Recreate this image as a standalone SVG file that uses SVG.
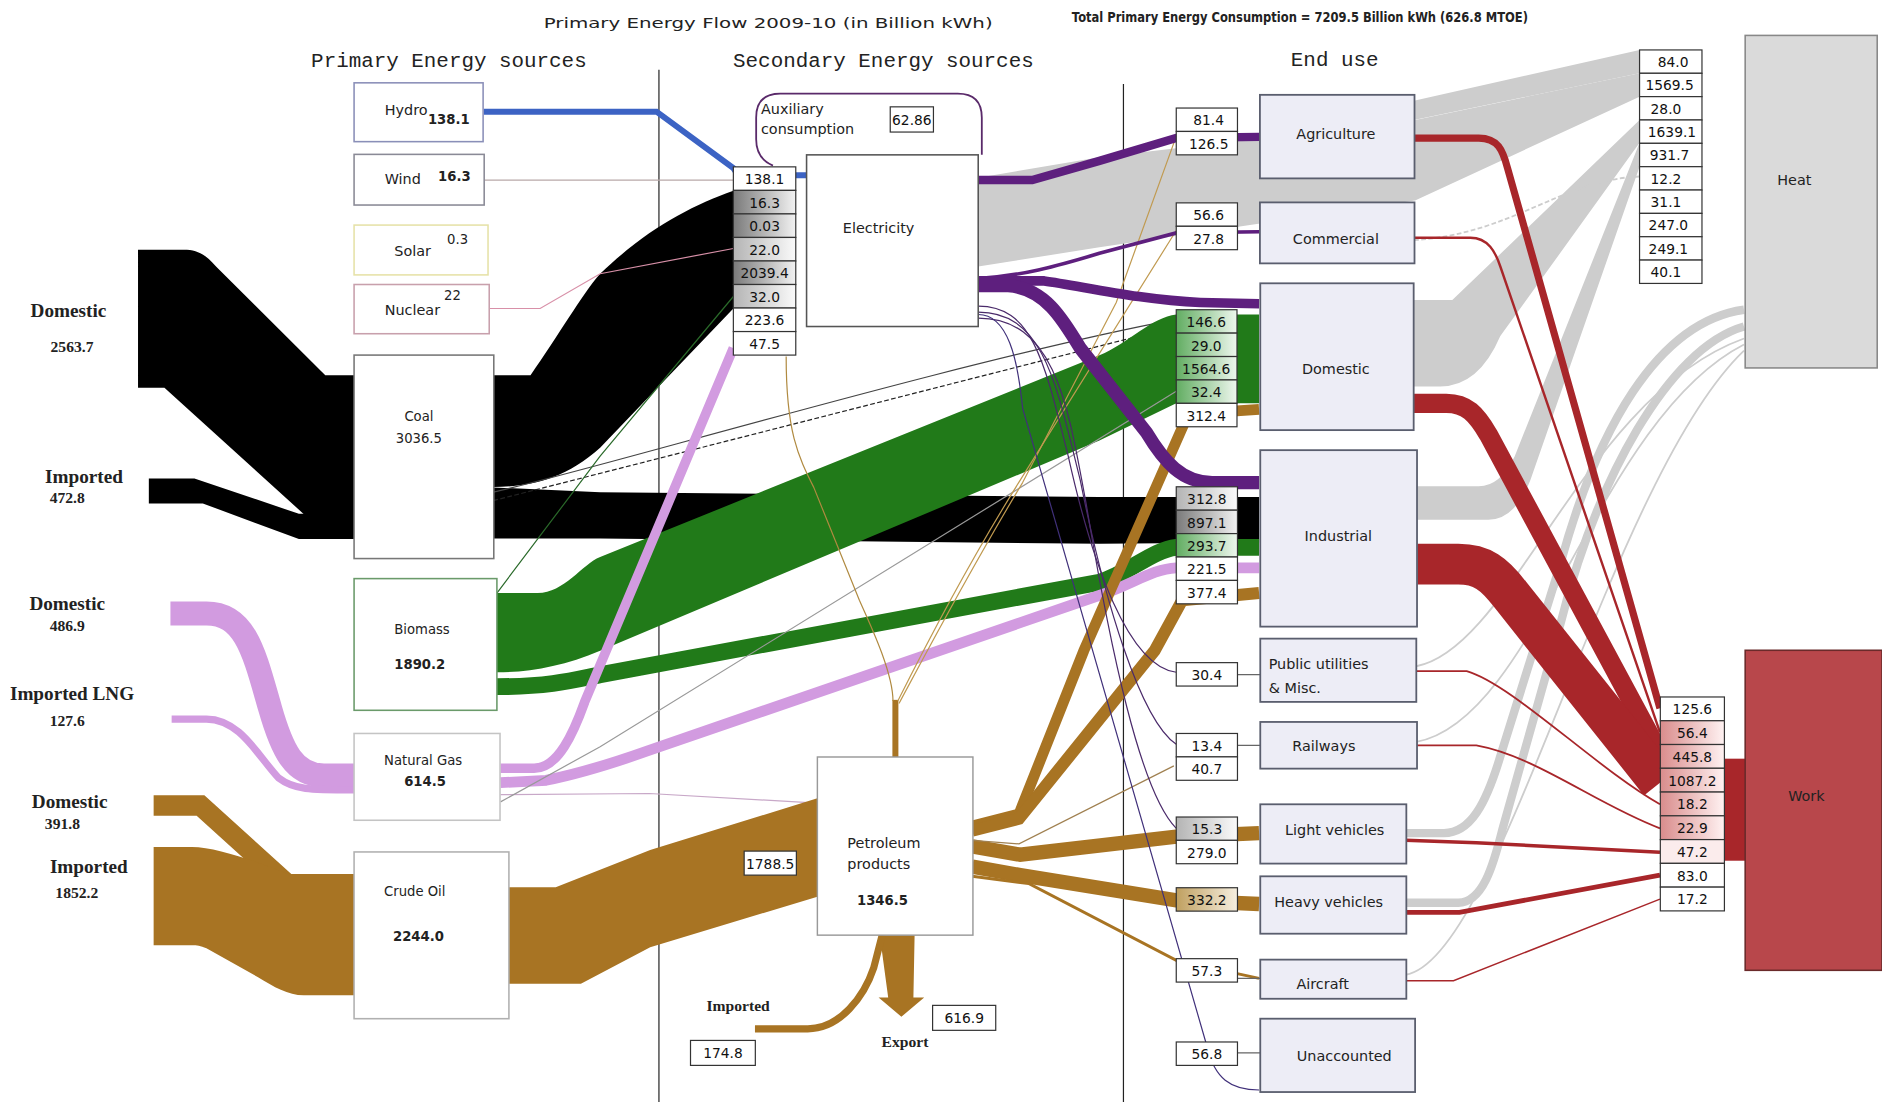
<svg xmlns="http://www.w3.org/2000/svg" width="1882" height="1102" viewBox="0 0 1882 1102">
<defs>
<style>
.hdr{font-family:"Liberation Mono",monospace;font-size:17.4px;fill:#222}
.lbl{font-family:"Liberation Serif",serif;font-weight:bold;font-size:16px;fill:#222}
.lnum{font-family:"Liberation Serif",serif;font-weight:bold;font-size:13px;fill:#222}
.bt{font-family:"DejaVu Sans",sans-serif;font-size:12px;fill:#222}
.bs{font-family:"DejaVu Sans",sans-serif;font-size:11px;fill:#222}
.bb{font-family:"DejaVu Sans",sans-serif;font-size:11px;font-weight:bold;fill:#222}
.cell{stroke:#333;stroke-width:1}
.ct{font-family:"DejaVu Sans",sans-serif;font-size:11.5px;fill:#111;text-anchor:middle}
.eu{fill:#ededf6;stroke:#5a5e6e;stroke-width:1.5}
.mid{text-anchor:middle}
.pb{fill:#fff;stroke-width:1.3}
.heat{fill:#cdcdcd}
.hl{fill:none;stroke:#cdcdcd;stroke-linecap:butt}
.red{fill:none;stroke:#a8262a}
.pur{fill:none;stroke:#5e1f7e}
.grn{fill:#217a19}
.lil{fill:none;stroke:#d29be0}
.oil{fill:#a87423}
.oils{fill:none;stroke:#a87423}
.thin{fill:none;stroke-width:1}
</style>
<linearGradient id="gg" x1="0" x2="1"><stop offset="0" stop-color="#7a7a7a"/><stop offset="1" stop-color="#f2f2f2"/></linearGradient>
<linearGradient id="gg2" x1="0" x2="1"><stop offset="0" stop-color="#b4b4b4"/><stop offset="1" stop-color="#fafafa"/></linearGradient>
<linearGradient id="gn" x1="0" x2="1"><stop offset="0" stop-color="#62ad62"/><stop offset="1" stop-color="#eef7ee"/></linearGradient>
<linearGradient id="gp" x1="0" x2="1"><stop offset="0" stop-color="#d98c8c"/><stop offset="1" stop-color="#fff2f2"/></linearGradient>
<linearGradient id="gt" x1="0" x2="1"><stop offset="0" stop-color="#c0a060"/><stop offset="1" stop-color="#f6efe0"/></linearGradient>
</defs>
<rect width="1882" height="1102" fill="#fff"/>
<g transform="scale(1.20026,1.20044)">

<g id="titles">
<text x="640" y="23" class="bt mid" font-size="17" textLength="374" lengthAdjust="spacingAndGlyphs">Primary Energy Flow 2009-10 (in Billion kWh)</text>
<text x="1083" y="18" class="bt mid" font-size="10.5" font-weight="bold" textLength="380" lengthAdjust="spacingAndGlyphs">Total Primary Energy Consumption = 7209.5 Billion kWh (626.8 MTOE)</text>
<text x="374" y="56" class="hdr mid">Primary Energy sources</text>
<text x="736" y="56" class="hdr mid">Secondary Energy sources</text>
<text x="1112" y="55" class="hdr mid">End use</text>
<line x1="549" y1="58" x2="549" y2="918" stroke="#222" stroke-width="1"/>
<line x1="936" y1="70" x2="936" y2="918" stroke="#222" stroke-width="1"/>
</g>

<g id="connectors">
<!-- heat (gray) -->
<path class="heat" d="M815,148 L916,131 L1179,100 L1366,61 L1366,80.5 L1179,167 L916,206 L815,222 Z"/>
<path class="heat" d="M1178,84 L1366,41.6 L1366,61 L1178,100 Z"/>
<path class="heat" d="M1176,250 L1210,250 L1366,100 L1366,119 L1250,280 Q1232,322 1200,322 L1176,322 Z"/>
<path class="heat" d="M1181,405 L1232,405 Q1250,405 1262,380 L1366,119 L1366,139 L1275,400 Q1262,433 1240,433 L1181,433 Z"/>
<path class="hl" stroke-width="7" d="M1171,694 L1203,694 C1225,694 1238,670 1250,630 L1300,470 C1330,360 1380,268 1453,258"/>
<path class="hl" stroke-width="7" d="M1171,752 L1215,752 C1235,752 1244,722 1252,690 L1300,520 C1330,400 1390,290 1453,272"/>
<path class="hl" stroke-width="1.5" d="M1180,555 C1260,540 1320,330 1453,282"/>
<path class="hl" stroke-width="1.5" d="M1180,618 C1280,600 1330,350 1453,287"/>
<path class="hl" stroke-width="1.5" d="M1171,812 C1250,800 1340,400 1453,292"/>
<path class="hl" stroke-width="1.5" stroke-dasharray="4 2" d="M1178,200 C1260,195 1300,150 1366,147"/>

<!-- work (red) -->
<path class="red" stroke-width="6" d="M1178,115 L1232,115 C1248,115 1252,125 1256,140 L1383,590"/>
<path class="red" stroke-width="2" stroke="#7a1c1c" d="M1178,198 L1225,198 C1240,198 1246,210 1250,222 L1383,610"/>
<path class="red" stroke-width="16" d="M1176,336 L1205,336 C1222,336 1230,345 1240,362 L1383,628"/>
<path class="red" stroke-width="34" d="M1181,470 L1215,470 C1235,470 1245,478 1258,495 L1383,652"/>
<path class="red" stroke-width="1.5" stroke="#6a2020" d="M1180,559 L1222,559 C1260,570 1330,640 1383,670"/>
<path class="red" stroke-width="1.5" stroke="#6a2020" d="M1180,621 L1230,621 C1280,630 1330,670 1383,690"/>
<path class="red" stroke-width="3" stroke="#6a1c1c" d="M1171,700 L1230,702 L1383,710"/>
<path class="red" stroke-width="4" stroke="#8a1c20" d="M1171,760 L1216,760 L1383,729"/>
<path class="red" stroke-width="1.2" stroke="#b08888" d="M1171,817 L1211,817 L1383,749"/>
<rect x="1436.7" y="632" width="17.3" height="85" fill="#a8262a"/>

<!-- coal (black) -->
<path fill="#000" d="M115,208 L153,208 C165,208 171,212 180,222 L271,312.5 L295,312.5 L295,430 L255,430 L137,323 L115,323 Z"/>
<path fill="#000" d="M124,398.6 L162,398.6 L249,428 L295,428 L295,449 L249,449 L169,419.4 L124,419.4 Z"/>
<path fill="#000" d="M411,312.5 L442,312.5 C465,280 485,245 500,228 C540,190 575,172 611,159 L611,257 L500,373 C470,400 440,405.6 411,405.6 Z"/>
<path fill="#000" d="M411,406 L500,410 L916,414 L1049,414 L1049,452 L916,453 L500,448.6 L411,448.6 Z"/>
<path class="thin" stroke="#222" stroke-dasharray="4 2" d="M411,417 L980,272"/>
<path class="thin" stroke="#444" stroke-width="0.8" d="M411,410 C500,390 800,300 980,266"/>

<!-- biomass (green) -->
<path class="grn" d="M414,494 L448,494 C470,494 485,470 500,464 L916,296 C940,286 960,264 980,262 L1049,262 L1049,336 L980,336 L916,367 L500,542 C470,555 440,560 414,560 Z"/>
<path fill="none" stroke="#217a19" stroke-width="14" d="M414,572 C460,572 480,566 500,562 L916,485 C940,478 960,458 980,456 L1049,456"/>
<path class="thin" stroke="#2a6a2a" stroke-width="1.2" d="M414,494 L500,380 L611,247"/>

<!-- gas (lilac) -->
<path class="lil" stroke-width="20" d="M142,511 L172,511 C205,511 212,545 225,590 C235,625 245,646 270,646 L295,646"/>
<path class="lil" stroke-width="6" d="M143,599 L172,599 C200,599 215,630 232,648 C245,658 258,658 295,658"/>
<path class="lil" stroke-width="8" d="M417,640 L445,640 C465,640 478,610 487,585 L611,290"/>
<path class="lil" stroke-width="9" d="M417,652 L455,650 C480,645 510,636 541,625 L916,496 C945,486 960,474 980,473 L1049,473"/>
<path class="thin" stroke="#c8a8c8" d="M417,662 L541,661 L681,669"/>
<path class="thin" stroke="#999" stroke-width="0.8" d="M417,668 L500,622 L980,326"/>

<!-- oil (brown) -->
<path class="oils" stroke-width="17" d="M128,671 L167,671 L240,737 L295,737"/>
<path class="oil" d="M128,705.5 L160,705.5 C180,705.5 215,718 240,728 L295,728 L295,829 L253,829 C240,829 228,822 215,814 L172,790 C167,788 164,787.5 160,787.5 L128,787.5 Z"/>
<path class="oil" d="M423,739 L463,739 L541.7,708 L681,665 L681,747 L541.7,789 L484,819.4 L423,819.4 Z"/>
<path class="oils" stroke-width="9" d="M810,688 L849,678 L903,542 L990,345 L1049,341"/>
<path class="oils" stroke-width="10" d="M810,692 L849,682 L962,542 L985,500 L1049,494"/>
<path class="oils" stroke-width="12" d="M810,705 L850,712 L980,697 L1049,694"/>
<path class="oils" stroke-width="12" d="M810,722 L850,729 L980,750 L1049,753"/>
<path class="oils" stroke-width="2.5" d="M810,730 L857,736 L980,800 L1049,815"/>
<path class="thin" stroke="#a08050" d="M810,700 L849,703 L978,638"/>
<path class="oils" stroke-width="5" d="M746,631 L746,583"/>
<path class="thin" stroke="#b08a40" stroke-width="1.2" d="M744,584 C744,560 725,520 716,500 L678,406 C665,380 655,360 655,297"/>
<path class="thin" stroke="#c09a50" stroke-width="1.2" d="M748,584 C760,560 800,480 850,400 L980,192"/>
<path class="thin" stroke="#c09a50" stroke-width="1" d="M749,586 C762,562 805,480 852,402 L930,252 L982,108"/>
<path class="oil" d="M733,779 L762,779 L761,831 L770,831 L751,847 L732,831 L740,831 Z"/>
<path class="oils" stroke-width="6" d="M629,857 L673,857 C700,857 720,830 728,806 L735,779"/>

<!-- electricity (purple) and others -->
<path class="pur" stroke-width="7" d="M815,150 L860,150 L916,134 L980,115 L1049,114"/>
<path class="pur" stroke-width="3" d="M815,232 C850,230 880,222 916,211 L980,194 L1049,193"/>
<path class="pur" stroke-width="8" d="M815,234 L870,234 C900,238 950,250 1000,252 L1049,253"/>
<path class="pur" stroke-width="11" d="M815,238 L840,238 C870,240 885,265 900,290 L955,360 C970,385 985,402 1010,402 L1049,402"/>
<path class="thin" stroke="#4a2a6a" d="M815,255 C860,255 870,300 890,380 C910,470 940,555 980,560"/>
<path class="thin" stroke="#4a2a6a" d="M815,260 C870,260 880,320 900,400 C920,500 950,600 980,620"/>
<path class="thin" stroke="#4a2a6a" stroke-width="0.8" d="M815,265 C880,265 890,340 905,420 C925,540 950,660 980,690"/>
<path class="thin" stroke="#40307a" stroke-width="2" d="M815,262 C840,262 848,300 852,340 L1006,873 C1012,898 1025,908 1049,908"/>
<path fill="none" stroke="#3c63c4" stroke-width="5" d="M403,93 L547,93 L611,140 L615,146 L672,146"/>
<path class="thin" stroke="#b8a8a8" d="M403,150 L611,150"/>
<path class="thin" stroke="#d890a8" d="M408,257 L450,257 L500,228 L611,207"/>
<path class="thin" stroke="#666" d="M1031,562 L1050,562 M1031,621 L1050,621 M1031,815 L1050,815 M1031,877 L1050,877"/>
</g>

<g id="hydro"><rect x="295" y="69" width="107.5" height="49" class="pb" stroke="#8a8fb8"/><text x="320.5" y="96" class="bt">Hydro</text><text x="356.5" y="103" class="bb" font-size="9.5">138.1</text></g>
<g id="wind"><rect x="295" y="128.6" width="108.4" height="42.2" class="pb" stroke="#8a8a96"/><text x="320.5" y="153" class="bt">Wind</text><text x="365" y="151" class="bb" font-size="9.5">16.3</text></g>
<g id="solar"><rect x="295" y="187.5" width="111.6" height="41.5" class="pb" stroke="#e6e2a8"/><text x="328.5" y="213" class="bt">Solar</text><text x="372.5" y="203" class="bs">0.3</text></g>
<g id="nuclear"><rect x="295" y="237" width="112.6" height="41" class="pb" stroke="#c8a0ac"/><text x="320.5" y="262" class="bt">Nuclear</text><text x="370" y="250" class="bs">22</text></g>
<g id="coal"><rect x="295" y="295.8" width="116.4" height="169.5" class="pb" stroke="#777"/><text x="349" y="351" class="bs mid">Coal</text><text x="349" y="369" class="bs mid">3036.5</text></g>
<g id="biomass"><rect x="295" y="482" width="119" height="109.7" class="pb" stroke="#6a9a6a"/><text x="328.5" y="528" class="bs">Biomass</text><text x="328.5" y="557" class="bb">1890.2</text></g>
<g id="natural-gas"><rect x="295" y="611" width="121.6" height="72.3" class="pb" stroke="#c4c4c4"/><text x="320" y="637" class="bs">Natural Gas</text><text x="336.7" y="655" class="bb">614.5</text></g>
<g id="crude-oil"><rect x="295" y="709.7" width="129" height="138.9" class="pb" stroke="#b0b0b0"/><text x="320" y="746" class="bs">Crude Oil</text><text x="327.4" y="784" class="bb">2244.0</text></g>

<g id="sources-left">
<text x="57" y="264" class="lbl mid">Domestic</text><text x="60" y="293" class="lnum mid">2563.7</text>
<text x="70" y="402" class="lbl mid">Imported</text><text x="56" y="419" class="lnum mid">472.8</text>
<text x="56" y="508" class="lbl mid">Domestic</text><text x="56" y="526" class="lnum mid">486.9</text>
<text x="60" y="583" class="lbl mid">Imported LNG</text><text x="56" y="605" class="lnum mid">127.6</text>
<text x="58" y="673" class="lbl mid">Domestic</text><text x="52" y="691" class="lnum mid">391.8</text>
<text x="74" y="727" class="lbl mid">Imported</text><text x="64" y="748" class="lnum mid">1852.2</text>
</g>

<g id="electricity">
<path d="M644,138 Q630,132 630,116 L630,98 Q630,78 650,78 L798,78 Q818,78 818,98 L818,129" fill="#fff" stroke="#5a2a6a" stroke-width="1.5"/>
<text x="634" y="95" class="bt" fill="#333">Auxiliary</text><text x="634" y="112" class="bt" fill="#333">consumption</text>
<rect x="741.7" y="89" width="36" height="21" class="cell" fill="#fff"/><text x="759.7" y="104" class="ct">62.86</text>
<rect x="672" y="129" width="143" height="143" fill="#fff" stroke="#555" stroke-width="1.3"/>
<text x="732" y="194" class="bt mid" font-size="12.5">Electricity</text>
<rect x="611" y="139" width="52" height="19.6" class="cell" fill="#fff"/><text x="637" y="153.5" class="ct">138.1</text>
<rect x="611" y="158.6" width="52" height="19.6" class="cell" fill="url(#gg)"/><text x="637" y="173" class="ct">16.3</text>
<rect x="611" y="178.2" width="52" height="19.6" class="cell" fill="url(#gg)"/><text x="637" y="192.6" class="ct">0.03</text>
<rect x="611" y="197.8" width="52" height="19.6" class="cell" fill="url(#gg2)"/><text x="637" y="212.2" class="ct">22.0</text>
<rect x="611" y="217.4" width="52" height="19.6" class="cell" fill="url(#gg)"/><text x="637" y="231.8" class="ct">2039.4</text>
<rect x="611" y="237" width="52" height="19.6" class="cell" fill="url(#gg2)"/><text x="637" y="251.4" class="ct">32.0</text>
<rect x="611" y="256.6" width="52" height="19.6" class="cell" fill="#fff"/><text x="637" y="271" class="ct">223.6</text>
<rect x="611" y="276.2" width="52" height="19.6" class="cell" fill="#fff"/><text x="637" y="290.6" class="ct">47.5</text>
</g>

<g id="petroleum">
<rect x="681" y="630.6" width="129.6" height="148.4" fill="#fff" stroke="#999" stroke-width="1.2"/>
<text x="706" y="706" class="bt">Petroleum</text><text x="706" y="724" class="bt">products</text><text x="714" y="754" class="bb">1346.5</text>
<rect x="620" y="709" width="43.5" height="20" class="cell" fill="#fff"/><text x="641.7" y="723.5" class="ct">1788.5</text>
<text x="615" y="842" class="lnum mid" font-size="14">Imported</text>
<rect x="575.3" y="866.7" width="54" height="20.8" class="cell" fill="#fff"/><text x="602.3" y="881.5" class="ct">174.8</text>
<text x="754" y="872" class="lnum mid" font-size="14">Export</text>
<rect x="777" y="837.5" width="52.6" height="20.8" class="cell" fill="#fff"/><text x="803.3" y="852.3" class="ct">616.9</text>
</g>

<g id="agriculture"><rect x="1049.7" y="79" width="128.8" height="69.6" class="eu"/><text x="1113" y="115.5" class="bt mid" font-size="12.5">Agriculture</text>
<rect x="980" y="90" width="51" height="19.5" class="cell" fill="#fff"/><text x="1007" y="104.5" class="ct">81.4</text>
<rect x="980" y="109.5" width="51" height="19.5" class="cell" fill="#fff"/><text x="1007" y="124" class="ct">126.5</text></g>
<g id="commercial"><rect x="1049.7" y="168.6" width="128.8" height="50.8" class="eu"/><text x="1113" y="203.5" class="bt mid" font-size="12.5">Commercial</text>
<rect x="980" y="169" width="51" height="19.5" class="cell" fill="#fff"/><text x="1007" y="183.5" class="ct">56.6</text>
<rect x="980" y="188.5" width="51" height="19.5" class="cell" fill="#fff"/><text x="1007" y="203" class="ct">27.8</text></g>
<g id="domestic"><rect x="1050" y="236" width="127.8" height="122.3" class="eu"/><text x="1113" y="311.5" class="bt mid" font-size="12.5">Domestic</text>
<rect x="980" y="258" width="50.6" height="19.5" class="cell" fill="url(#gn)"/><text x="1005" y="272.5" class="ct">146.6</text>
<rect x="980" y="277.5" width="50.6" height="19.5" class="cell" fill="url(#gn)"/><text x="1005" y="292" class="ct">29.0</text>
<rect x="980" y="297" width="50.6" height="19.5" class="cell" fill="url(#gn)"/><text x="1005" y="311.5" class="ct">1564.6</text>
<rect x="980" y="316.5" width="50.6" height="19.5" class="cell" fill="url(#gn)"/><text x="1005" y="331" class="ct">32.4</text>
<rect x="980" y="336" width="50.6" height="19.5" class="cell" fill="#fff"/><text x="1005" y="350.5" class="ct">312.4</text></g>
<g id="industrial"><rect x="1050" y="375" width="130.6" height="147" class="eu"/><text x="1115" y="450.5" class="bt mid" font-size="12.5">Industrial</text>
<rect x="980" y="405.5" width="51" height="19.5" class="cell" fill="url(#gg2)"/><text x="1005.5" y="420" class="ct">312.8</text>
<rect x="980" y="425" width="51" height="19.5" class="cell" fill="url(#gg)"/><text x="1005.5" y="439.5" class="ct">897.1</text>
<rect x="980" y="444.5" width="51" height="19.5" class="cell" fill="url(#gn)"/><text x="1005.5" y="459" class="ct">293.7</text>
<rect x="980" y="464" width="51" height="19.5" class="cell" fill="#fff"/><text x="1005.5" y="478.5" class="ct">221.5</text>
<rect x="980" y="483.5" width="51" height="19.5" class="cell" fill="#fff"/><text x="1005.5" y="498" class="ct">377.4</text></g>
<g id="public-utilities"><rect x="1050" y="532" width="130" height="52.7" class="eu"/><text x="1057" y="557" class="bt" font-size="12.5">Public utilities</text><text x="1057" y="577" class="bt" font-size="12.5">&amp; Misc.</text>
<rect x="980" y="552" width="51" height="19.5" class="cell" fill="#fff"/><text x="1005.5" y="566.5" class="ct">30.4</text></g>
<g id="railways"><rect x="1050" y="601.4" width="130.6" height="38.9" class="eu"/><text x="1103" y="626" class="bt mid" font-size="12.5">Railways</text>
<rect x="980" y="611" width="51" height="19.5" class="cell" fill="#fff"/><text x="1005.5" y="625.5" class="ct">13.4</text>
<rect x="980" y="630.5" width="51" height="19.5" class="cell" fill="#fff"/><text x="1005.5" y="645" class="ct">40.7</text></g>
<g id="light-vehicles"><rect x="1050" y="670" width="121.7" height="49.4" class="eu"/><text x="1112" y="695.5" class="bt mid" font-size="12.5">Light vehicles</text>
<rect x="980" y="680.6" width="51" height="19.5" class="cell" fill="url(#gg2)"/><text x="1005.5" y="695" class="ct">15.3</text>
<rect x="980" y="700" width="51" height="19.5" class="cell" fill="#fff"/><text x="1005.5" y="714.5" class="ct">279.0</text></g>
<g id="heavy-vehicles"><rect x="1050" y="730" width="121.7" height="47.8" class="eu"/><text x="1107" y="755.5" class="bt mid" font-size="12.5">Heavy vehicles</text>
<rect x="980" y="739.5" width="51" height="19.5" class="cell" fill="url(#gt)"/><text x="1005.5" y="754" class="ct">332.2</text></g>
<g id="aircraft"><rect x="1050" y="799.4" width="121.7" height="32.6" class="eu"/><text x="1102" y="823.5" class="bt mid" font-size="12.5">Aircraft</text>
<rect x="980" y="798.6" width="51" height="19.5" class="cell" fill="#fff"/><text x="1005.5" y="813" class="ct">57.3</text></g>
<g id="unaccounted"><rect x="1050" y="848.6" width="129" height="61.1" class="eu"/><text x="1120" y="883.5" class="bt mid" font-size="12.5">Unaccounted</text>
<rect x="980" y="868" width="51" height="19.5" class="cell" fill="#fff"/><text x="1005.5" y="882.5" class="ct">56.8</text></g>

<g id="heat"><rect x="1454" y="29.5" width="110" height="277" fill="#dadada" stroke="#888" stroke-width="1.3"/><text x="1495" y="154" class="bt mid">Heat</text>
<g>
<rect x="1366" y="41.6" width="52" height="19.45" class="cell" fill="#fff"/><text x="1394" y="55.8" class="ct">84.0</text>
<rect x="1366" y="61.05" width="52" height="19.45" class="cell" fill="#fff"/><text x="1391" y="75.2" class="ct">1569.5</text>
<rect x="1366" y="80.5" width="52" height="19.45" class="cell" fill="#fff"/><text x="1388" y="94.7" class="ct">28.0</text>
<rect x="1366" y="99.95" width="52" height="19.45" class="cell" fill="#fff"/><text x="1393" y="114.1" class="ct">1639.1</text>
<rect x="1366" y="119.4" width="52" height="19.45" class="cell" fill="#fff"/><text x="1391" y="133.6" class="ct">931.7</text>
<rect x="1366" y="138.85" width="52" height="19.45" class="cell" fill="#fff"/><text x="1388" y="153" class="ct">12.2</text>
<rect x="1366" y="158.3" width="52" height="19.45" class="cell" fill="#fff"/><text x="1388" y="172.5" class="ct">31.1</text>
<rect x="1366" y="177.75" width="52" height="19.45" class="cell" fill="#fff"/><text x="1390" y="191.9" class="ct">247.0</text>
<rect x="1366" y="197.2" width="52" height="19.45" class="cell" fill="#fff"/><text x="1390" y="211.4" class="ct">249.1</text>
<rect x="1366" y="216.65" width="52" height="19.45" class="cell" fill="#fff"/><text x="1388" y="230.8" class="ct">40.1</text>
</g></g>

<g id="work"><rect x="1454" y="541.7" width="114" height="266.6" fill="#b8474b" stroke="#6a2a2a" stroke-width="1.3"/><text x="1505" y="667" class="bt mid" fill="#3a1010">Work</text>
<g>
<rect x="1383.3" y="580.6" width="53.4" height="19.8" class="cell" fill="#fff"/><text x="1410" y="595" class="ct">125.6</text>
<rect x="1383.3" y="600.4" width="53.4" height="19.8" class="cell" fill="url(#gp)"/><text x="1410" y="614.8" class="ct">56.4</text>
<rect x="1383.3" y="620.2" width="53.4" height="19.8" class="cell" fill="url(#gp)"/><text x="1410" y="634.6" class="ct">445.8</text>
<rect x="1383.3" y="640" width="53.4" height="19.8" class="cell" fill="url(#gp)"/><text x="1410" y="654.4" class="ct">1087.2</text>
<rect x="1383.3" y="659.8" width="53.4" height="19.8" class="cell" fill="url(#gp)"/><text x="1410" y="674.2" class="ct">18.2</text>
<rect x="1383.3" y="679.6" width="53.4" height="19.8" class="cell" fill="url(#gp)"/><text x="1410" y="694" class="ct">22.9</text>
<rect x="1383.3" y="699.4" width="53.4" height="19.8" class="cell" fill="#fbecec"/><text x="1410" y="713.8" class="ct">47.2</text>
<rect x="1383.3" y="719.2" width="53.4" height="19.8" class="cell" fill="#fff"/><text x="1410" y="733.6" class="ct">83.0</text>
<rect x="1383.3" y="739" width="53.4" height="19.8" class="cell" fill="#fff"/><text x="1410" y="753.4" class="ct">17.2</text>
</g></g>

</g>
</svg>
